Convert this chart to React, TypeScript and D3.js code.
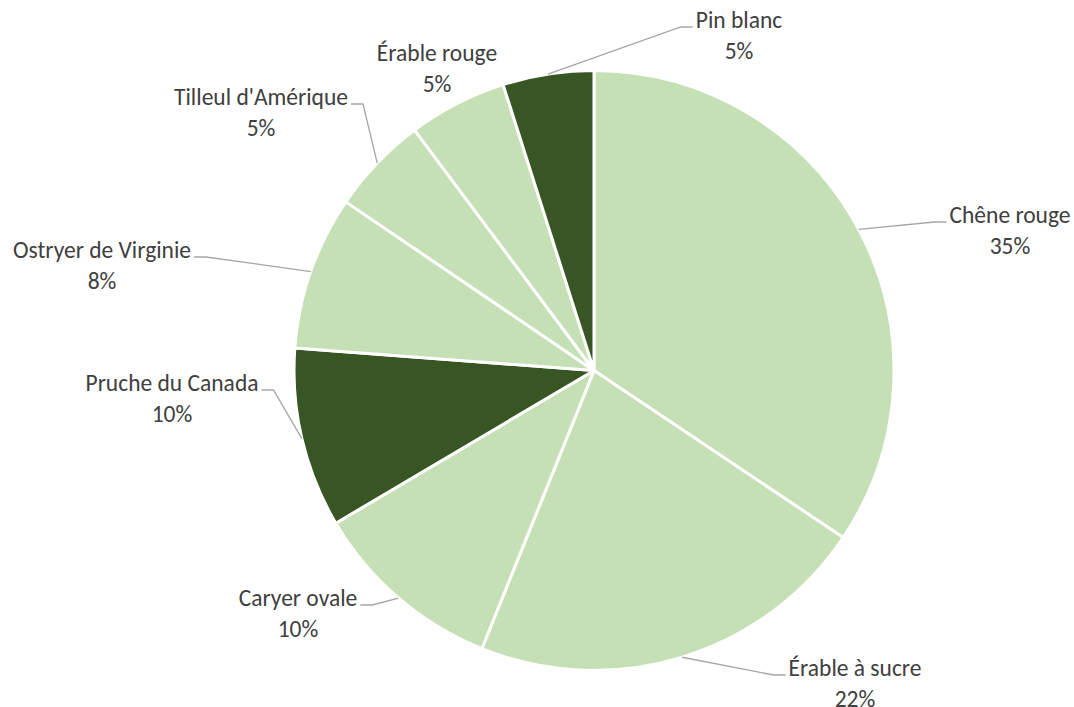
import { useEffect, useRef } from "react";
import * as d3 from "d3";

const species = [
  "Chêne rouge",
  "Érable à sucre",
  "Caryer ovale",
  "Pruche du Canada",
  "Ostryer de Virginie",
  "Tilleul d'Amérique",
  "Érable rouge",
  "Pin blanc",
];
// slice sizes as drawn
const shares = [34.4, 21.7, 10.4, 9.7, 8.3, 5.3, 5.3, 4.9];
// percentages as printed on the labels
const pctLabels = ["35%", "22%", "10%", "10%", "8%", "5%", "5%", "5%"];
const conifers = ["Pruche du Canada", "Pin blanc"];

// label placement (center x, first line center y) and whether a leader line is drawn
const labelPos: [number, number, boolean][] = [
  [1010, 215, true],
  [855, 668, true],
  [298, 598, true],
  [172, 383, true],
  [102, 250, true],
  [261, 97, true],
  [437, 53, false],
  [739, 20, true],
];

export default function App() {
  const ref = useRef<SVGSVGElement>(null);

  useEffect(() => {
    const width = 1074;
    const height = 707;
    const cx = 594;
    const cy = 370.5;
    const r = 300;

    const svg = d3.select(ref.current).attr("width", width).attr("height", height);
    svg.selectAll("*").remove();

    const data = species.map((name, i) => ({ name, value: shares[i], label: pctLabels[i] }));
    const pie = d3
      .pie<{ name: string; value: number; label: string }>()
      .sort(null)
      .value((d) => d.value);
    const arcs = pie(data);
    const arc = d3
      .arc<d3.PieArcDatum<{ name: string; value: number; label: string }>>()
      .innerRadius(0)
      .outerRadius(r);

    const color = (n: string) => (conifers.includes(n) ? "#375623" : "#C5E0B4");

    const g = svg.append("g").attr("transform", `translate(${cx},${cy})`);
    g.selectAll("path")
      .data(arcs)
      .enter()
      .append("path")
      .attr("d", arc)
      .attr("fill", (d) => color(d.data.name))
      .attr("stroke", "#fff")
      .attr("stroke-width", 3)
      .attr("stroke-linejoin", "round");

    const lines = svg.append("g");
    const labels = svg
      .append("g")
      .attr("font-family", "Carlito, Calibri, 'Open Sans', sans-serif")
      .attr("font-size", 23.5)
      .attr("fill", "#404040")
      .attr("text-anchor", "middle");

    arcs.forEach((a, i) => {
      const [lx, ly, leader] = labelPos[i];
      const t = labels.append("text").attr("x", lx).attr("y", ly + 8);
      t.append("tspan").attr("x", lx).text(a.data.name);
      t.append("tspan").attr("x", lx).attr("dy", 31).text(a.data.label);

      if (!leader) return;
      const w = (t.select("tspan").node() as SVGTSpanElement).getComputedTextLength();
      const mid = (a.startAngle + a.endAngle) / 2;
      const px = cx + r * Math.sin(mid);
      const py = cy - r * Math.cos(mid);
      const right = lx > px;
      const edge = right ? lx - w / 2 - 3 : lx + w / 2 + 3;
      const ey = ly + 7;
      const elbow = right ? edge - 12 : edge + 12;
      lines
        .append("path")
        .attr("d", d3.line()([[px, py], [elbow, ey], [edge, ey]]))
        .attr("fill", "none")
        .attr("stroke", "#A6A6A6")
        .attr("stroke-width", 1.3);
    });
  }, []);

  return <svg ref={ref} style={{ position: "absolute", left: 0, top: 0, background: "#fff" }} />;
}
